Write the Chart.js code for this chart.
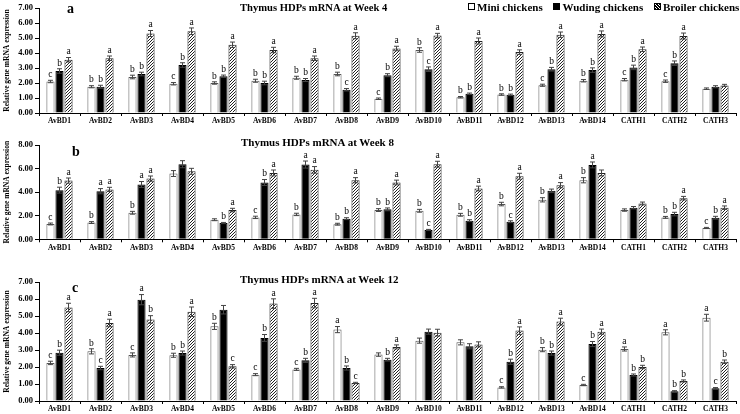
<!DOCTYPE html>
<html>
<head>
<meta charset="utf-8">
<script src="https://cdn.jsdelivr.net/npm/chart.js@4"></script>
<style>
  body { margin: 0; width: 740px; height: 414px; background: #fff; position: relative; overflow: hidden; font-family: "Liberation Serif", "Times New Roman", serif; }
  canvas { position: absolute; left: 0; }
  .title { position: absolute; font-weight: bold; font-size: 11px; line-height: 12px; white-space: nowrap; }
  .tag { position: absolute; font-weight: bold; font-size: 14px; line-height: 14px; }
  .legend { position: absolute; left: 468px; top: 1px; font-weight: bold; font-size: 11px; line-height: 12px; white-space: nowrap; }
  .legend span.box { display: inline-block; width: 5px; height: 5px; border: 1px solid #000; margin-right: 2px; vertical-align: 1px; }
  .legend span.item { margin-right: 8px; }
</style>
</head>
<body>
<canvas id="chartA"></canvas>
<canvas id="chartB"></canvas>
<canvas id="chartC"></canvas>

<div class="title" style="left:240px; top:2px; font-size:10.6px;">Thymus HDPs mRNA at Week 4</div>
<div class="title" style="left:241px; top:136px;">Thymus HDPs mRNA at Week 8</div>
<div class="title" style="left:240px; top:273px;">Thymus HDPs mRNA at Week 12</div>
<div class="tag" style="left:67px; top:2px;">a</div>
<div class="tag" style="left:72px; top:145px;">b</div>
<div class="tag" style="left:72px; top:281px;">c</div>
<div class="legend">
  <span class="item"><span class="box" style="background:#fff"></span>Mini chickens</span>
  <span class="item"><span class="box" style="background:#000"></span>Wuding chickens</span>
  <span><span class="box" style="background:repeating-linear-gradient(45deg,#000 0 1px,#fff 1px 2px)"></span>Broiler chickens</span>
</div>

<script>
// categories and series
const genes = ["AvBD1", "AvBD2", "AvBD3", "AvBD4", "AvBD5", "AvBD6", "AvBD7", "AvBD8", "AvBD9",
               "AvBD10", "AvBD11", "AvBD12", "AvBD13", "AvBD14", "CATH1", "CATH2", "CATH3"];
const seriesNames = ["Mini chickens", "Wuding chickens", "Broiler chickens"];
const yTitle = "Relative gene mRNA expression";

// Week 4
const w4Mini    = [2.10, 1.75, 2.40, 1.95, 2.00, 2.15, 2.35, 2.60, 0.95, 4.20, 1.05, 1.23, 1.85, 2.15, 2.22, 2.12, 1.62];
const w4Wuding  = [2.80, 1.75, 2.60, 3.20, 2.45, 2.00, 2.20, 1.55, 2.52, 2.92, 1.28, 1.21, 2.92, 2.86, 3.04, 3.32, 1.75];
const w4Broiler = [3.55, 3.65, 5.30, 5.45, 4.55, 4.20, 3.65, 5.15, 4.30, 5.16, 4.80, 4.06, 5.22, 5.27, 4.25, 5.13, 1.84];
const w4MiniErr    = [0.08, 0.07, 0.12, 0.08, 0.08, 0.10, 0.10, 0.12, 0.05, 0.15, 0.05, 0.05, 0.07, 0.08, 0.08, 0.08, 0.05];
const w4WudingErr  = [0.15, 0.10, 0.12, 0.15, 0.08, 0.12, 0.10, 0.08, 0.10, 0.15, 0.05, 0.05, 0.12, 0.15, 0.15, 0.15, 0.07];
const w4BroilerErr = [0.15, 0.15, 0.20, 0.22, 0.18, 0.18, 0.15, 0.20, 0.15, 0.15, 0.20, 0.15, 0.18, 0.20, 0.15, 0.20, 0.07];
const w4MiniSig    = ["c", "b", "b", "c", "b", "b", "b", "b", "c", "b", "b", "b", "c", "b", "c", "c", ""];
const w4WudingSig  = ["b", "b", "b", "b", "b", "b", "b", "c", "b", "c", "b", "b", "b", "b", "b", "b", ""];
const w4BroilerSig = ["a", "a", "a", "a", "a", "a", "a", "a", "a", "a", "a", "a", "a", "a", "a", "a", ""];

// Week 8
const w8Mini    = [1.30, 1.42, 2.25, 5.58, 1.66, 1.86, 2.11, 1.28, 2.48, 2.42, 2.08, 2.99, 3.35, 5.01, 2.48, 1.86, 0.96];
const w8Wuding  = [4.17, 4.08, 4.65, 6.37, 1.38, 4.82, 6.34, 1.75, 2.54, 0.79, 1.58, 1.49, 4.11, 6.31, 2.68, 2.14, 1.83];
const w8Broiler = [4.98, 4.23, 5.15, 5.77, 2.48, 5.63, 5.89, 5.01, 4.82, 6.37, 4.31, 5.35, 4.59, 5.63, 3.04, 3.49, 2.68];
const w8MiniErr    = [0.08, 0.08, 0.12, 0.25, 0.08, 0.10, 0.10, 0.08, 0.12, 0.12, 0.12, 0.15, 0.18, 0.22, 0.10, 0.08, 0.05];
const w8WudingErr  = [0.25, 0.22, 0.25, 0.30, 0.05, 0.25, 0.30, 0.08, 0.12, 0.05, 0.08, 0.08, 0.15, 0.25, 0.10, 0.15, 0.12];
const w8BroilerErr = [0.22, 0.18, 0.22, 0.25, 0.15, 0.25, 0.28, 0.22, 0.20, 0.25, 0.20, 0.25, 0.22, 0.25, 0.12, 0.15, 0.15];
const w8MiniSig    = ["c", "b", "b", "", "", "c", "b", "b", "b", "b", "b", "b", "b", "b", "", "b", "c"];
const w8WudingSig  = ["b", "a", "a", "", "b", "b", "a", "b", "b", "c", "b", "c", "", "a", "", "b", "b"];
const w8BroilerSig = ["a", "a", "a", "", "a", "a", "a", "a", "a", "a", "a", "a", "a", "", "", "a", "a"];

// Week 12
const w12Mini    = [2.24, 2.92, 2.71, 2.69, 4.39, 1.55, 1.86, 4.20, 2.73, 3.55, 3.45, 0.80, 3.02, 0.94, 3.06, 4.04, 4.90];
const w12Wuding  = [2.84, 1.94, 5.96, 2.82, 5.37, 3.71, 2.39, 1.94, 2.43, 4.08, 3.22, 2.31, 2.82, 3.35, 1.53, 0.57, 0.75];
const w12Broiler = [5.50, 4.59, 4.80, 5.25, 2.04, 5.73, 5.76, 1.06, 3.18, 4.02, 3.33, 4.14, 4.67, 4.08, 2.00, 1.18, 2.31];
const w12MiniErr    = [0.10, 0.15, 0.12, 0.12, 0.18, 0.06, 0.06, 0.18, 0.10, 0.15, 0.15, 0.04, 0.12, 0.04, 0.12, 0.15, 0.20];
const w12WudingErr  = [0.15, 0.10, 0.30, 0.12, 0.25, 0.20, 0.12, 0.12, 0.08, 0.15, 0.15, 0.15, 0.12, 0.15, 0.06, 0.04, 0.04];
const w12BroilerErr = [0.25, 0.22, 0.22, 0.28, 0.10, 0.28, 0.28, 0.04, 0.12, 0.20, 0.15, 0.22, 0.20, 0.15, 0.10, 0.06, 0.10];
const w12MiniSig    = ["c", "b", "c", "b", "b", "c", "c", "a", "", "", "", "c", "b", "c", "a", "a", "a"];
const w12WudingSig  = ["b", "c", "a", "b", "", "b", "b", "b", "b", "", "", "b", "b", "b", "b", "b", "c"];
const w12BroilerSig = ["a", "a", "b", "a", "c", "a", "a", "c", "a", "", "", "a", "a", "a", "b", "b", "b"];

// hatched fill for broiler bars
function makeHatch() {
    const c = document.createElement("canvas");
    c.width = 3; c.height = 3;
    const g = c.getContext("2d");
    g.fillStyle = "#fff";
    g.fillRect(0, 0, 3, 3);
    g.fillStyle = "#222";
    g.fillRect(0, 2, 1, 1);
    g.fillRect(1, 1, 1, 1);
    g.fillRect(2, 0, 1, 1);
    return g.createPattern(c, "repeat");
}
const hatch = makeHatch();

// draws error bars + significance letters from the data
const errorBarPlugin = {
    id: "errorBars",
    afterDatasetsDraw(chart) {
        const ctx = chart.ctx;
        const y = chart.scales.y;
        ctx.save();
        chart.data.datasets.forEach((ds, i) => {
            const meta = chart.getDatasetMeta(i);
            meta.data.forEach((bar, j) => {
                const v = ds.data[j];
                const e = ds.errors[j];
                const top = y.getPixelForValue(v + e);
                const bot = y.getPixelForValue(v - e);
                ctx.strokeStyle = "#444";
                ctx.lineWidth = 1;
                ctx.beginPath();
                ctx.moveTo(bar.x, top); ctx.lineTo(bar.x, bot);
                ctx.moveTo(bar.x - 2.5, top); ctx.lineTo(bar.x + 2.5, top);
                ctx.moveTo(bar.x - 2.5, bot); ctx.lineTo(bar.x + 2.5, bot);
                ctx.stroke();
                const s = ds.letters[j];
                if (s) {
                    ctx.fillStyle = "#000";
                    ctx.font = "9.5px 'Liberation Serif'";
                    ctx.textAlign = "center";
                    ctx.textBaseline = "bottom";
                    ctx.fillText(s, bar.x, top - 1);
                }
            });
        });
        ctx.restore();
    }
};

function makePanel(id, top, height, yMax, padTop, xHeight, values, errs, sigs) {
    const canvas = document.getElementById(id);
    canvas.style.top = top + "px";
    canvas.width = 740; canvas.height = height;
    canvas.style.width = "740px"; canvas.style.height = height + "px";
    const fills = ["#fff", "#000", hatch];
    const borders = ["#555", "#000", "#222"];
    return new Chart(canvas.getContext("2d"), {
        type: "bar",
        data: {
            labels: genes,
            datasets: seriesNames.map((name, k) => ({
                label: name,
                data: values[k],
                errors: errs[k],
                letters: sigs[k],
                backgroundColor: fills[k],
                borderColor: borders[k],
                borderWidth: 1,
                categoryPercentage: 0.66,
                barPercentage: 0.9
            }))
        },
        options: {
            responsive: false,
            animation: false,
            layout: { padding: { top: padTop, right: 4, left: 0, bottom: 0 } },
            plugins: { legend: { display: false }, tooltip: { enabled: false } },
            scales: {
                x: {
                    grid: { display: true, drawOnChartArea: false, offset: true, tickLength: 3, color: "#000" },
                    border: { color: "#000" },
                    ticks: { color: "#000", font: { family: "Liberation Serif", weight: "bold", size: 7.5 }, padding: 1, maxRotation: 0, autoSkip: false },
                    afterFit: (s) => { s.height = xHeight; }
                },
                y: {
                    min: 0, max: yMax,
                    grid: { display: true, drawOnChartArea: false, tickLength: 4, color: "#000" },
                    border: { color: "#000" },
                    ticks: { stepSize: 1, color: "#000", padding: 2, font: { family: "Liberation Serif", weight: "bold", size: 8.5 },
                             callback: (v) => Number(v).toFixed(2) },
                    title: { display: true, text: yTitle, color: "#000", padding: { top: 3, bottom: 0 },
                             font: { family: "Liberation Serif", weight: "bold", size: 7.5 } },
                    afterFit: (s) => { s.width = 39; }
                }
            }
        },
        plugins: [errorBarPlugin]
    });
}

makePanel("chartA", 0, 128, 7, 8, 15,
    [w4Mini, w4Wuding, w4Broiler], [w4MiniErr, w4WudingErr, w4BroilerErr], [w4MiniSig, w4WudingSig, w4BroilerSig]);
makePanel("chartB", 128, 136, 8, 17, 24.7,
    [w8Mini, w8Wuding, w8Broiler], [w8MiniErr, w8WudingErr, w8BroilerErr], [w8MiniSig, w8WudingSig, w8BroilerSig]);
makePanel("chartC", 265, 149, 7, 17, 13,
    [w12Mini, w12Wuding, w12Broiler], [w12MiniErr, w12WudingErr, w12BroilerErr], [w12MiniSig, w12WudingSig, w12BroilerSig]);
</script>
</body>
</html>
